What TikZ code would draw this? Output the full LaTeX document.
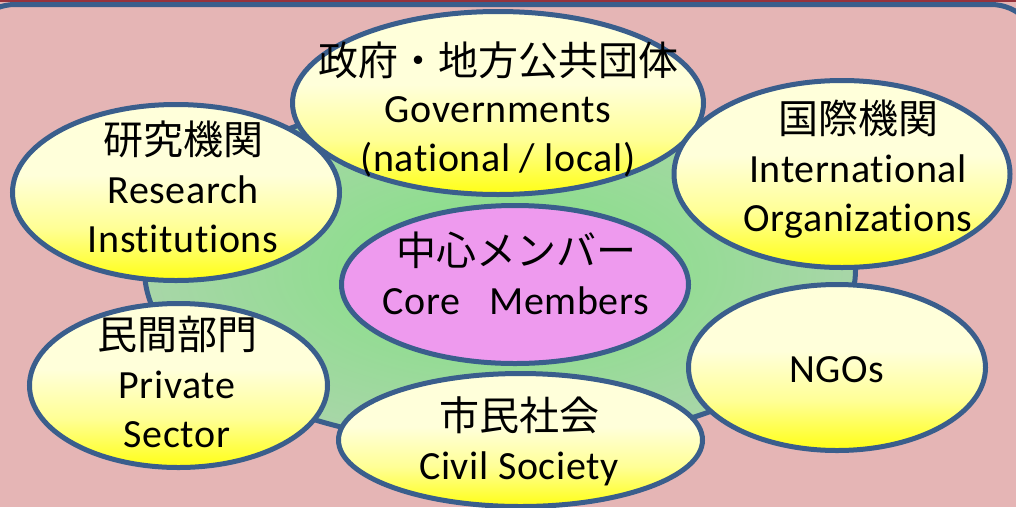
\documentclass[tikz,border=0pt]{standalone}
\usepackage{fontspec}
\setmainfont{Carlito}[LetterSpace=1.5, Ligatures={NoCommon,NoContextual}, RawFeature={-liga;-clig;-calt;-dlig}]
\newfontfamily\jp{Noto Sans CJK JP}
\usetikzlibrary{shapes.geometric,shadings}
\definecolor{bgpink}{RGB}{229,181,181}
\definecolor{framecol}{RGB}{58,94,140}
\definecolor{toprule}{RGB}{150,50,60}
\definecolor{ytop}{RGB}{255,255,218}
\definecolor{ymid}{RGB}{255,255,150}
\definecolor{ybot}{RGB}{255,255,20}
\definecolor{gin}{RGB}{128,226,128}
\definecolor{gout}{RGB}{168,214,168}
\definecolor{corefill}{RGB}{238,154,238}
\pgfdeclareverticalshading{yelshade}{100bp}{color(0bp)=(ybot); color(25bp)=(ybot); color(40bp)=(ymid); color(55bp)=(ytop); color(75bp)=(ytop); color(100bp)=(ytop)}
\tikzset{
  oval/.style={ellipse, draw=framecol, line width=5pt, inner sep=0pt},
  member/.style={oval, shading=yelshade},
  lbl/.style={align=center, anchor=base, inner sep=0pt, font=\fontsize{40}{49}\selectfont}
}
\begin{document}
\begin{tikzpicture}[x=1pt,y=-1pt]
\useasboundingbox (0,0) rectangle (1016,507);
\fill[bgpink] (0,0) rectangle (1016,507);
\fill[toprule] (0,0) rectangle (1016,1.5);
\draw[framecol, line width=5pt, rounded corners=48pt] (-33,4.5) rectangle (1039,600);
% hub
\node[oval, minimum width=711pt, minimum height=351pt, inner color=gin, outer color=gout] (hub) at (500,270) {};
% members
\node[member, minimum width=327pt, minimum height=176pt] (res) at (176,192.5) {};
\node[member, minimum width=298pt, minimum height=164pt] (priv) at (178.5,385.5) {};
\node[member, minimum width=411pt, minimum height=183pt] (gov) at (498,103) {};
\node[member, minimum width=336pt, minimum height=187pt] (intl) at (842,174) {};
\node[member, minimum width=297pt, minimum height=166pt] (ngo) at (837,367.5) {};
\node[oval, fill=corefill, minimum width=347pt, minimum height=158pt] (core) at (515,284.5) {};
\node[member, minimum width=364pt, minimum height=133pt] (civ) at (520.5,440) {};
% labels (anchored at the baseline of the last line)
\node[lbl] (govt) at (498,171) {{\jp 政府・地方公共団体}\\[-2pt]Governments\\(national / local)};
\node[lbl] (rest) at (183,252) {{\jp 研究機関}\\Research\\Institutions};
\node[lbl] (intlt) at (858,231) {{\jp 国際機関}\\International\\Organizations};
\node[lbl] (coret) at (516,314) {{\jp 中心メンバー}\\Core\hspace{29pt}Members};
\node[lbl] (privt) at (177,447) {{\jp 民間部門}\\Private\\Sector};
\node[lbl] (civt) at (519,479) {{\jp 市民社会}\\Civil Society};
\node[lbl] (ngot) at (837,382) {NGOs};
\end{tikzpicture}
\end{document}
